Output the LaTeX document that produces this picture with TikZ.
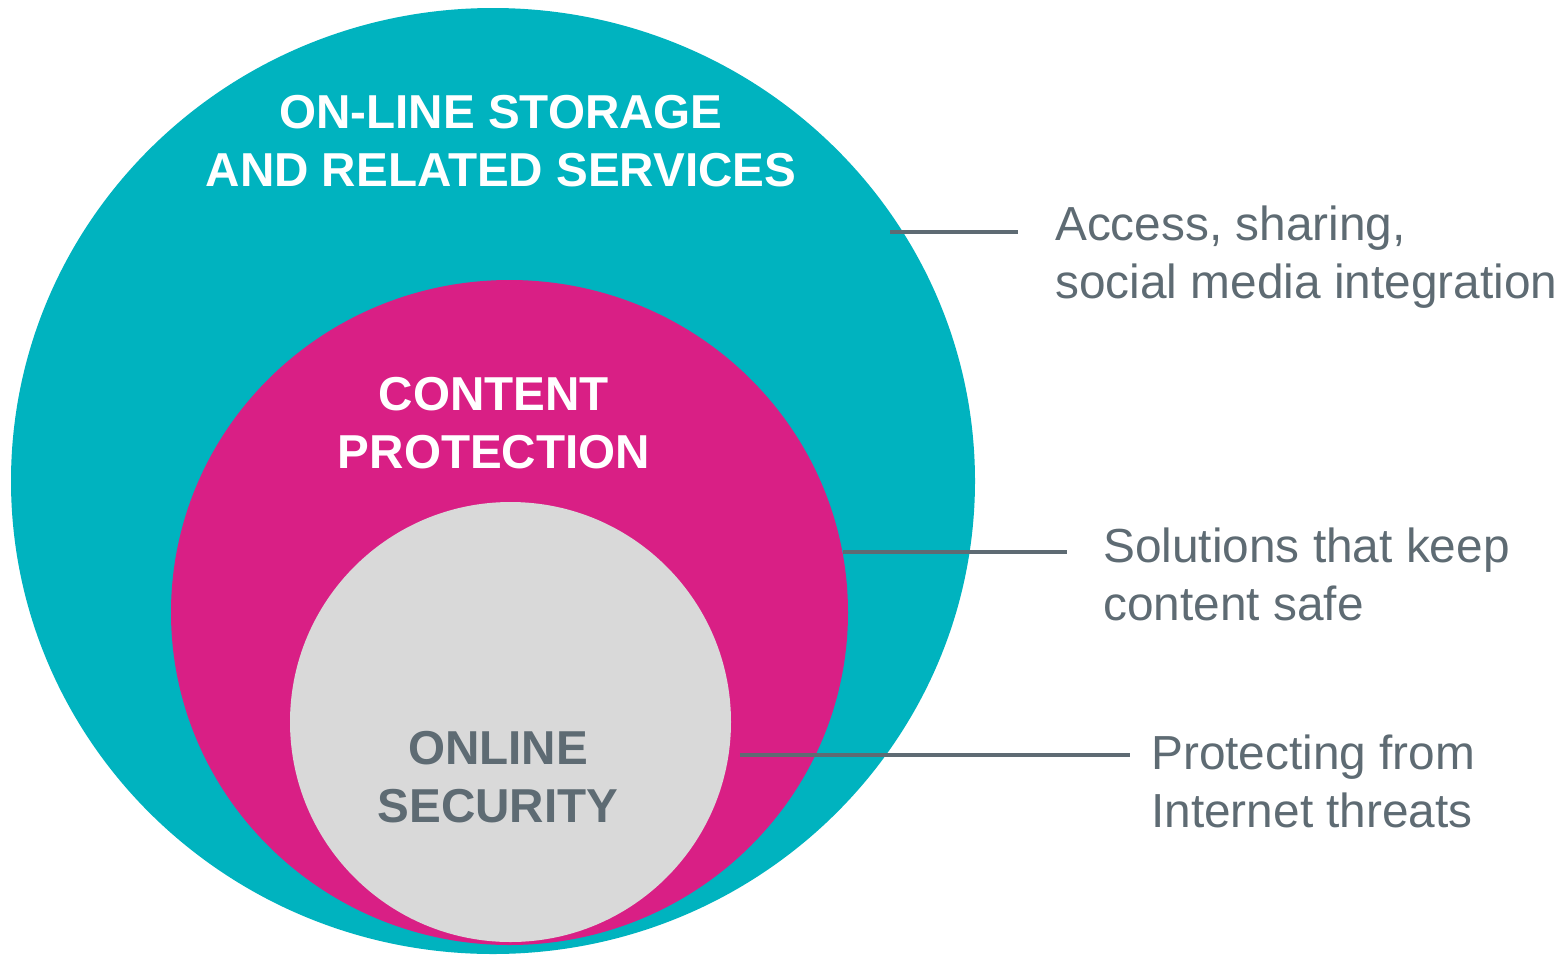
\documentclass[tikz,border=0pt]{standalone}
\usepackage{fontspec}
\setmainfont{Liberation Sans}
\usetikzlibrary{shapes.geometric}
\definecolor{storageteal}{HTML}{00B3BF}
\definecolor{protectmagenta}{HTML}{D91F85}
\definecolor{securitygrey}{HTML}{D9D9D9}
\definecolor{notegrey}{HTML}{5E6B73}
\begin{document}
\begin{tikzpicture}[x=1pt,y=-1pt]
        % Styles
        \tikzstyle{ring}=[ellipse,inner sep=0pt,draw=none]
        \tikzstyle{ring title}=[align=center,anchor=base,inner sep=0pt,font=\bfseries\fontsize{47.6}{58}\selectfont]
        \tikzstyle{side note}=[align=left,anchor=base west,inner sep=0pt,text=notegrey,font=\fontsize{47.8}{58}\selectfont]
        \tikzstyle{pointer}=[line width=3.5pt,draw=notegrey]
        \useasboundingbox (0,0) rectangle (1564,954);
        %rings
        \node[ring,fill=storageteal,minimum width=964pt,minimum height=946pt] (storage) at (493,481) {};
        \node[ring,fill=protectmagenta,minimum width=677pt,minimum height=665pt] (protection) at (509.5,612.5) {};
        \node[ring,fill=securitygrey,minimum width=441pt,minimum height=440pt] (security) at (510.5,722) {};
        %titles (base is the last line)
        \node[ring title,text=white] (storage title) at (501,186) {ON-LINE STORAGE\\AND RELATED SERVICES};
        \node[ring title,text=white] (protection title) at (494,468) {CONTENT\\PROTECTION};
        \node[ring title,text=notegrey] (security title) at (498,822) {ONLINE\\SECURITY};
        %side notes
        \node[side note] (access) at (1055,298) {Access, sharing,\\social media integration};
        \node[side note] (safe) at (1103,620) {Solutions that keep\\content safe};
        \node[side note] (threats) at (1151,827) {Protecting from\\Internet threats};
        %pointers
        \coordinate (access tip) at (890,232);
        \coordinate (safe tip) at (843,552);
        \coordinate (threats tip) at (740,755);
        \draw[pointer,shorten >=37pt] (access tip) -- (access tip -| access.west);
        \draw[pointer,shorten >=36pt] (safe tip) -- (safe tip -| safe.west);
        \draw[pointer,shorten >=21pt] (threats tip) -- (threats tip -| threats.west);
\end{tikzpicture}
\end{document}
